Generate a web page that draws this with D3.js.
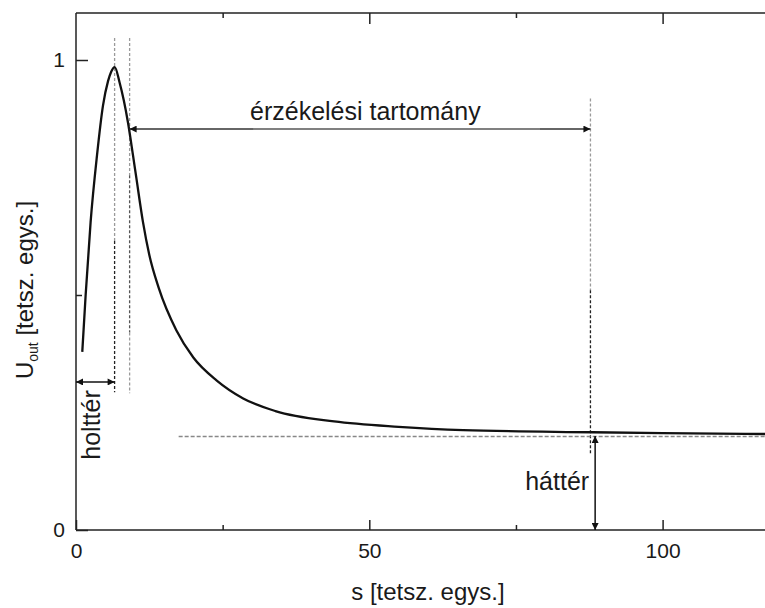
<!DOCTYPE html>
<html>
<head>
<meta charset="utf-8">
<script src="https://cdn.jsdelivr.net/npm/d3@7"></script>
<style>
  html, body { margin: 0; padding: 0; background: #fff; }
  svg { display: block; }
  text { font-family: Arial, "Liberation Sans", Helvetica, sans-serif; fill: #1a1a1a; }
</style>
</head>
<body>
<svg id="chart" width="765" height="608"></svg>
<script>
// ---- data ----
const sValues = [1.07, 1.64, 2.49, 3.58, 4.6, 5.46, 6.0, 6.6, 7.43, 8.86, 9.72, 10.3, 11.42, 12.5, 14.1, 17.1, 20, 24, 28.5, 34, 44, 55, 66, 88, 100, 120];
const uValues = [0.379, 0.499, 0.655, 0.797, 0.903, 0.955, 0.975, 0.985, 0.952, 0.867, 0.797, 0.748, 0.655, 0.585, 0.515, 0.425, 0.367, 0.318, 0.280, 0.253, 0.231, 0.2195, 0.2125, 0.208, 0.206, 0.204];

const xMajorTicks = [0, 50, 100];
const xMinorTicks = [25, 75];
const yMajorTicks = [0, 1];
const yMinorTicks = [0.5];

const xLabelText = "s [tetsz. egys.]";
const yLabelMain = "U";
const yLabelSub = "out";
const yLabelRest = " [tetsz. egys.]";

// annotation values (data coordinates)
const peakS = 6.58;          // dead zone limit
const rangeStartS = 9.14;    // sensing range start
const rangeEndS = 87.7;      // sensing range end
const backgroundLevel = 0.2;
const backgroundStartS = 17.5;
const rangeArrowU = 0.853;
const deadZoneArrowU = 0.315;
const backgroundArrowS = 88.5;
const rangeLabel = "érzékelési tartomány";
const deadLabel = "holttér";
const backLabel = "háttér";

// ---- layout ----
const svg = d3.select("#chart");
const plotLeft = 76, plotBottom = 530, plotTop = 13;
const x = d3.scaleLinear().domain([0, 120]).range([plotLeft, plotLeft + 120 * 5.866]);
const y = d3.scaleLinear().domain([0, 1.1]).range([plotBottom, plotTop]);

// arrow markers
const defs = svg.append("defs");
function marker(id) {
  defs.append("marker")
    .attr("id", id)
    .attr("viewBox", "0 0 10 10")
    .attr("refX", 10).attr("refY", 5)
    .attr("markerWidth", 9).attr("markerHeight", 7)
    .attr("markerUnits", "userSpaceOnUse")
    .attr("orient", "auto-start-reverse")
    .append("path").attr("d", "M0,0 L10,5 L0,10 z").attr("fill", "#111");
}
marker("arr");

// ---- axes frame ----
const axisColor = "#222";
svg.append("line").attr("x1", x(0)).attr("x2", x(120)).attr("y1", y(0)).attr("y2", y(0))
  .attr("stroke", axisColor).attr("stroke-width", 1.5);
svg.append("line").attr("x1", x(0)).attr("x2", x(120)).attr("y1", y(1.1)).attr("y2", y(1.1))
  .attr("stroke", axisColor).attr("stroke-width", 1.5);
svg.append("line").attr("x1", x(0)).attr("x2", x(0)).attr("y1", y(0)).attr("y2", y(1.1))
  .attr("stroke", axisColor).attr("stroke-width", 1.5);

function styleAxis(g) {
  g.select(".domain").remove();
  g.selectAll(".tick line").attr("stroke", axisColor).attr("stroke-width", 1.5);
  g.selectAll(".tick text").attr("fill", "#1a1a1a").attr("font-size", 21)
    .attr("font-family", "Arial, 'Liberation Sans', Helvetica, sans-serif");
}

// bottom major
svg.append("g").attr("transform", `translate(0,${y(0)})`)
  .call(d3.axisBottom(x).tickValues(xMajorTicks).tickSize(-10).tickPadding(13).tickFormat(d3.format("d")))
  .call(styleAxis);
// bottom minor
svg.append("g").attr("transform", `translate(0,${y(0)})`)
  .call(d3.axisBottom(x).tickValues(xMinorTicks).tickSize(-5).tickFormat(""))
  .call(styleAxis);
// top major / minor
svg.append("g").attr("transform", `translate(0,${y(1.1)})`)
  .call(d3.axisTop(x).tickValues(xMajorTicks.filter(d => d > 0)).tickSize(-11).tickFormat(""))
  .call(styleAxis);
svg.append("g").attr("transform", `translate(0,${y(1.1)})`)
  .call(d3.axisTop(x).tickValues(xMinorTicks).tickSize(-5).tickFormat(""))
  .call(styleAxis);
// left major / minor
svg.append("g").attr("transform", `translate(${x(0)},0)`)
  .call(d3.axisLeft(y).tickValues(yMajorTicks).tickSize(-12).tickPadding(11).tickFormat(d3.format("d")))
  .call(styleAxis);
svg.append("g").attr("transform", `translate(${x(0)},0)`)
  .call(d3.axisLeft(y).tickValues(yMinorTicks).tickSize(-6).tickFormat(""))
  .call(styleAxis);

// ---- axis labels ----
svg.append("text").attr("x", (x(0) + x(120)) / 2).attr("y", 600)
  .attr("text-anchor", "middle").attr("font-size", 24).text(xLabelText);

const yl = svg.append("text").attr("transform", `translate(33,290) rotate(-90)`)
  .attr("text-anchor", "middle").attr("font-size", 24);
yl.append("tspan").text(yLabelMain);
yl.append("tspan").attr("font-size", 14).attr("dy", 5).text(yLabelSub);
yl.append("tspan").attr("dy", -5).text(yLabelRest);

// ---- dashed guide lines ----
const gray = "#9a9a9a";
function vDash(s, u1, u2, color) {
  svg.append("line").attr("x1", x(s)).attr("x2", x(s)).attr("y1", y(u1)).attr("y2", y(u2))
    .attr("stroke", color).attr("stroke-width", 1.3).attr("stroke-dasharray", "3,2");
}
// peak line: gray top, black lower
vDash(peakS, 1.047, 0.615, gray);
vDash(peakS, 0.615, 0.293, "#222");
// range start line
vDash(rangeStartS, 1.047, 0.755, gray);
vDash(rangeStartS, 0.755, 0.42, "#555");
vDash(rangeStartS, 0.42, 0.291, gray);
// range end line
vDash(rangeEndS, 0.918, 0.51, gray);
vDash(rangeEndS, 0.51, 0.159, "#222");

// background horizontal dashed
svg.append("line").attr("x1", x(backgroundStartS)).attr("x2", x(120))
  .attr("y1", y(backgroundLevel) + 0.5).attr("y2", y(backgroundLevel) + 0.5)
  .attr("stroke", "#888").attr("stroke-width", 1.3).attr("stroke-dasharray", "4,2");

// ---- curve ----
const pts = sValues.map((s, i) => [s, uValues[i]]);
svg.append("path").datum(pts)
  .attr("fill", "none").attr("stroke", "#111").attr("stroke-width", 2.3)
  .attr("d", d3.line().x(d => x(d[0])).y(d => y(d[1])).curve(d3.curveMonotoneX));

// ---- sensing range arrow ----
svg.append("line").attr("x1", x(rangeStartS)).attr("x2", x(rangeEndS))
  .attr("y1", y(rangeArrowU)).attr("y2", y(rangeArrowU))
  .attr("stroke", "#333").attr("stroke-width", 1.5)
  .attr("marker-start", "url(#arr)").attr("marker-end", "url(#arr)");
svg.append("line").attr("x1", x(30.2)).attr("x2", x(79.1))
  .attr("y1", y(rangeArrowU)).attr("y2", y(rangeArrowU))
  .attr("stroke", "#8a8a8a").attr("stroke-width", 1.5);
svg.append("text").attr("x", 250).attr("y", 120).attr("font-size", 25).text(rangeLabel);

// ---- dead zone arrow ----
svg.append("line").attr("x1", x(0)).attr("x2", x(peakS))
  .attr("y1", y(deadZoneArrowU)).attr("y2", y(deadZoneArrowU))
  .attr("stroke", "#111").attr("stroke-width", 1.5)
  .attr("marker-start", "url(#arr)").attr("marker-end", "url(#arr)");
svg.append("text").attr("transform", `translate(100,425) rotate(-90)`)
  .attr("text-anchor", "middle").attr("font-size", 25).text(deadLabel);

// ---- background arrow ----
svg.append("line").attr("x1", x(backgroundArrowS)).attr("x2", x(backgroundArrowS))
  .attr("y1", y(backgroundLevel)).attr("y2", y(0))
  .attr("stroke", "#111").attr("stroke-width", 1.5)
  .attr("marker-start", "url(#arr)").attr("marker-end", "url(#arr)");
svg.append("text").attr("x", x(backgroundArrowS) - 6).attr("y", 490)
  .attr("text-anchor", "end").attr("font-size", 25).text(backLabel);
</script>
</body>
</html>
